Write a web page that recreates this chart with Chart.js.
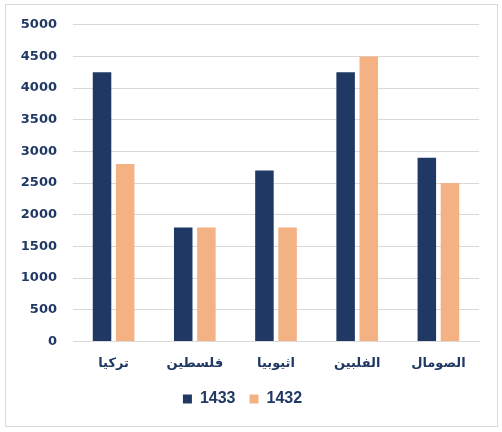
<!DOCTYPE html>
<html>
<head>
<meta charset="utf-8">
<script src="https://cdn.jsdelivr.net/npm/chart.js@4"></script>
<style>
  body { margin: 0; background: #fff; }
  #box { position: absolute; left: 5px; top: 4px; width: 491px; height: 421px; border: 1px solid #d9d9d9; }
  #myChart { position: absolute; left: 6px; top: 1px; }
</style>
</head>
<body>
<div id="box"></div>
<canvas id="myChart" width="491" height="425"></canvas>
<script>
const countries = ["تركيا", "فلسطين", "اثيوبيا", "الفلبين", "الصومال"];
const values1433 = [4250, 1800, 2700, 4250, 2900];
const values1432 = [2800, 1800, 1800, 4500, 2500];
const yTicks = { min: 0, max: 5000, step: 500 };

const navy = "#203864";

const ctx = document.getElementById("myChart").getContext("2d");
const myChart = new Chart(ctx, {
  type: "bar",
  data: {
    labels: countries,
    datasets: [
      { label: "1433", data: values1433, backgroundColor: "#203864" },
      { label: "1432", data: values1432, backgroundColor: "#F4B183" },
    ],
  },
  options: {
    responsive: false,
    animation: false,
    layout: { padding: { top: 0, right: 18, left: 0, bottom: 9 } },
    datasets: { bar: { categoryPercentage: 0.57, barPercentage: 0.8 } },
    plugins: {
      legend: {
        position: "bottom",
        labels: {
          boxWidth: 9,
          boxHeight: 9,
          padding: 14,
          color: navy,
          font: { family: "Liberation Sans", size: 16, weight: "bold" },
        },
      },
      tooltip: { enabled: false },
    },
    scales: {
      x: {
        grid: { display: false },
        border: { color: "#d9d9d9" },
        ticks: {
          color: navy,
          padding: 6,
          font: { family: "DejaVu Sans", size: 13, weight: "bold" },
        },
      },
      y: {
        min: yTicks.min,
        max: yTicks.max,
        border: { display: false },
        grid: { color: "#d9d9d9", drawTicks: false },
        afterFit: (scale) => { scale.width = 67; },
        ticks: {
          stepSize: yTicks.step,
          padding: 16,
          color: navy,
          font: { family: "DejaVu Sans", size: 13, weight: "bold" },
          callback: (v) => String(v),
        },
      },
    },
  },
});
</script>
</body>
</html>
